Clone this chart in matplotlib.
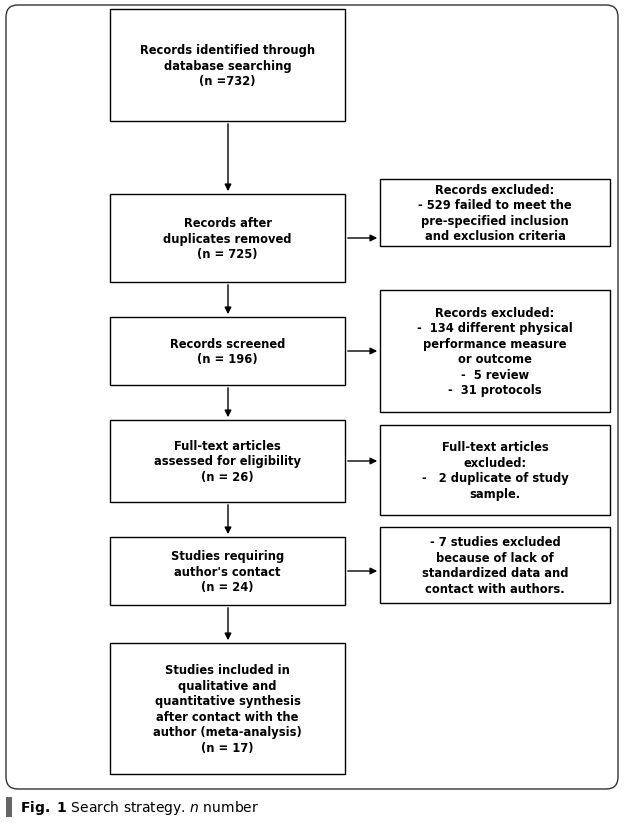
import matplotlib
matplotlib.use("Agg")
import matplotlib.pyplot as plt
from matplotlib.patches import Rectangle, FancyBboxPatch

left_texts = ["Records identified through\ndatabase searching\n(n =732)",
              "Records after\nduplicates removed\n(n = 725)",
              "Records screened\n(n = 196)",
              "Full-text articles\nassessed for eligibility\n(n = 26)",
              "Studies requiring\nauthor's contact\n(n = 24)",
              "Studies included in\nqualitative and\nquantitative synthesis\nafter contact with the\nauthor (meta-analysis)\n(n = 17)"]
right_texts = ["Records excluded:\n- 529 failed to meet the\npre-specified inclusion\nand exclusion criteria",
               "Records excluded:\n-  134 different physical\nperformance measure\nor outcome\n-  5 review\n-  31 protocols",
               "Full-text articles\nexcluded:\n-   2 duplicate of study\nsample.",
               "- 7 studies excluded\nbecause of lack of\nstandardized data and\ncontact with authors."]

left_boxes = [(10, 122), (195, 283), (318, 386), (421, 503), (538, 606), (644, 775)]
right_boxes = [(180, 247), (291, 413), (426, 516), (528, 604)]
arrow_y = [239, 352, 462, 572]

fig = plt.figure(figsize=(6.25, 8.29), dpi=100)
ax = fig.add_axes([0, 0, 1, 1])
ax.set_xlim(0, 625); ax.set_ylim(829, 0); ax.axis("off")

ax.add_patch(FancyBboxPatch((6, 6), 612, 784, boxstyle="round,pad=0,rounding_size=12",
                            fill=False, ec="#333333", lw=1))
LX0, LX1 = 110, 345
RX0, RX1 = 380, 610
for (t, (y0, y1)) in zip(left_texts, left_boxes):
    ax.add_patch(Rectangle((LX0, y0), LX1 - LX0, y1 - y0, fill=False, ec="black", lw=1))
    ax.text((LX0 + LX1) / 2, (y0 + y1) / 2, t, ha="center", va="center",
            fontsize=8.3, fontweight="bold", linespacing=1.25)
for (t, (y0, y1)) in zip(right_texts, right_boxes):
    ax.add_patch(Rectangle((RX0, y0), RX1 - RX0, y1 - y0, fill=False, ec="black", lw=1))
    ax.text((RX0 + RX1) / 2, (y0 + y1) / 2, t, ha="center", va="center",
            fontsize=8.3, fontweight="bold", linespacing=1.25)
for (a, b) in zip(left_boxes[:-1], left_boxes[1:]):
    ax.annotate("", xy=(228, b[0]), xytext=(228, a[1]),
                arrowprops=dict(arrowstyle="-|>", color="black", lw=1, mutation_scale=10))
for y in arrow_y:
    ax.annotate("", xy=(RX0, y), xytext=(LX1, y),
                arrowprops=dict(arrowstyle="-|>", color="black", lw=1, mutation_scale=10))

ax.add_patch(Rectangle((6, 798), 6, 20, color="#666666", lw=0))
ax.text(20, 808, r"$\bf{Fig.\ 1}$ Search strategy. $\it{n}$ number", va="center", fontsize=10)
fig.savefig("out.png", dpi=100)
